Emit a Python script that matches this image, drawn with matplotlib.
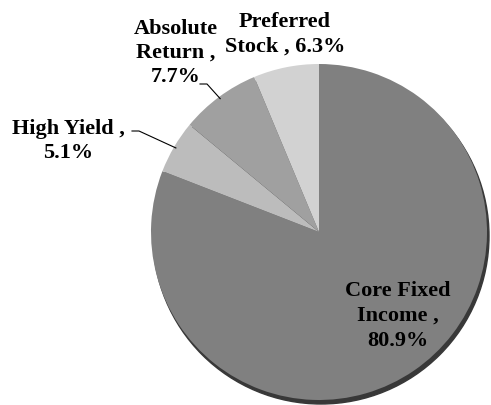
import matplotlib.pyplot as plt
import numpy as np

labels = ['Core Fixed Income', 'High Yield', 'Absolute Return', 'Preferred Stock']
shares = [80.9, 5.1, 7.7, 6.3]
colors = ['#808080', '#bcbcbc', '#a0a0a0', '#d2d2d2']

label_text = ['Core Fixed\nIncome ,\n80.9%', 'High Yield ,\n5.1%',
              'Absolute\nReturn ,\n7.7%', 'Preferred\nStock , 6.3%']


def main():
    fig = plt.figure(figsize=(4.91, 4.05), dpi=100)
    ax = fig.add_axes([0, 0, 1, 1])

    cx, cy, r = 319, 173, 168
    # dark rim underneath, gives the flat 3d look
    ax.add_patch(plt.Circle((cx + 2, cy - 4), r, color='#383838', zorder=0))
    wedges, _ = ax.pie(shares, colors=colors, startangle=90, counterclock=False,
                       center=(cx, cy), radius=r,
                       wedgeprops=dict(linewidth=0))

    font = dict(family='Liberation Serif', fontweight='bold', fontsize=16,
                ha='center', va='center', linespacing=1.3, color='black')
    text_pos = [(398, 89), (68, 264), (176, 352), (285, 371)]
    for t, (x, y) in zip(label_text, text_pos):
        ax.text(x, y, t, **font)

    # leader lines for the two small slices on the left
    starts = {1: (132, 274), 2: (200, 321)}
    for i, (sx, sy) in starts.items():
        w = wedges[i]
        ang = np.deg2rad((w.theta1 + w.theta2) / 2)
        ex, ey = cx + (r - 2) * np.cos(ang), cy + (r - 2) * np.sin(ang)
        ax.plot([sx, sx + 7, ex], [sy, sy, ey], color='black', lw=0.8)

    ax.set_xlim(0, 491)
    ax.set_ylim(0, 405)
    ax.set_aspect('equal')
    ax.axis('off')
    fig.savefig('out.png', dpi=100)


if __name__ == '__main__':
    main()
